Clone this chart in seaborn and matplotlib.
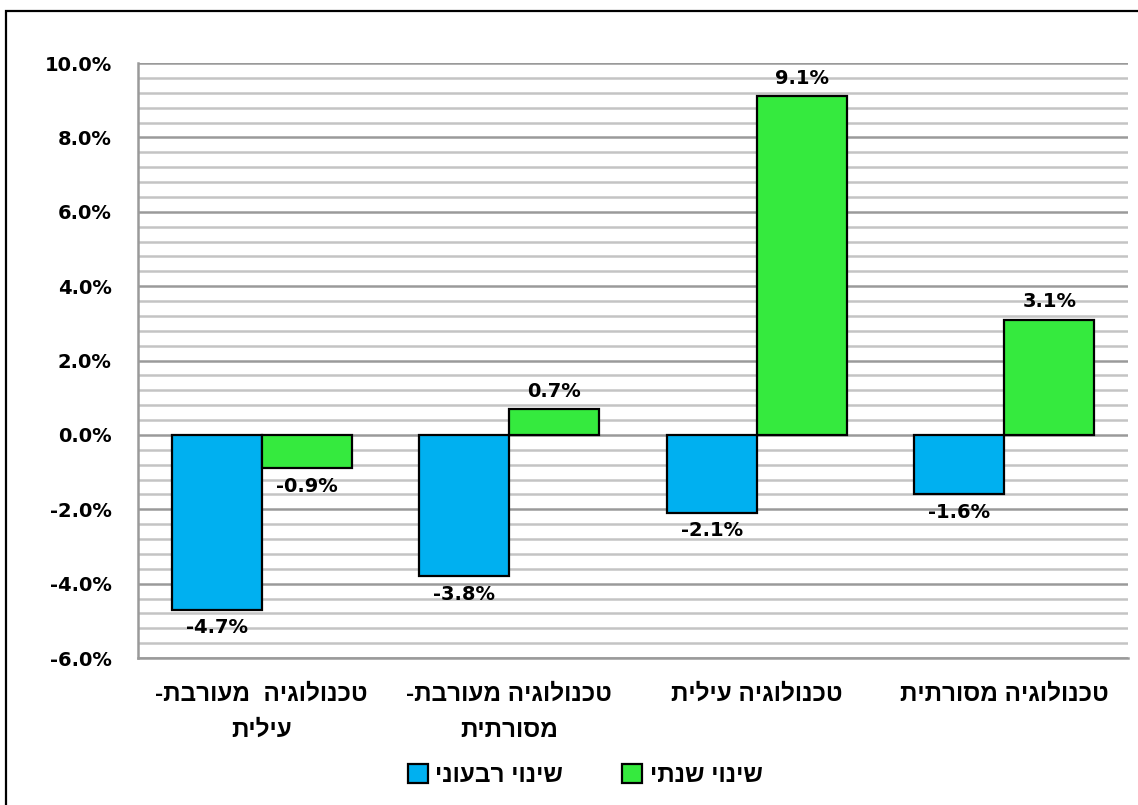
import numpy as np
import pandas as pd
import seaborn as sns
import matplotlib.pyplot as plt
from matplotlib.patches import Rectangle
from matplotlib.ticker import MultipleLocator, FuncFormatter

# Hebrew strings are stored in logical order and reversed for display (no bidi in matplotlib)
categories = ['טכנולוגיה  מעורבת-\nעילית',
              'טכנולוגיה מעורבת-\nמסורתית',
              'טכנולוגיה עילית',
              'טכנולוגיה מסורתית']
series_names = ['שינוי רבעוני', 'שינוי שנתי']
quarterly = [-4.7, -3.8, -2.1, -1.6]
annual = [-0.9, 0.7, 9.1, 3.1]
colors = ['#00B0F0', '#35EA3E']

HEB = ['Liberation Sans', 'DejaVu Sans']


def rtl(s):
    return '\n'.join(line[::-1] for line in s.split('\n'))


cat_disp = [rtl(c) for c in categories]
ser_disp = [rtl(s) for s in series_names]

df = pd.DataFrame({
    'cat': cat_disp * 2,
    'series': [ser_disp[0]] * 4 + [ser_disp[1]] * 4,
    'val': quarterly + annual,
})

sns.set_style('white')
plt.rcParams['font.family'] = ['DejaVu Sans']
plt.rcParams['font.weight'] = 'bold'
plt.rcParams['text.color'] = 'black'
plt.rcParams['xtick.color'] = 'black'
plt.rcParams['ytick.color'] = 'black'

fig = plt.figure(figsize=(11.38, 8.05), dpi=100)
ax = fig.add_axes([0.1213, 0.1826, 0.8699, 0.7391])

sns.barplot(data=df, x='cat', y='val', hue='series', palette=colors, saturation=1,
            width=0.727, edgecolor='black', linewidth=1.6, ax=ax, zorder=3)

ax.set_ylim(-6, 10)
ax.set_xlim(-0.5, 3.5)
ax.yaxis.set_major_locator(MultipleLocator(2))
ax.yaxis.set_minor_locator(MultipleLocator(0.4))
ax.yaxis.set_major_formatter(FuncFormatter(lambda v, p: f'{v:.1f}%'))
ax.grid(which='minor', axis='y', color='#C4C4C4', linewidth=1.8, zorder=0)
ax.grid(which='major', axis='y', color='#9A9A9A', linewidth=1.8, zorder=0)
ax.set_axisbelow(True)

for s in ['top', 'right']:
    ax.spines[s].set_visible(False)
for s in ['left', 'bottom']:
    ax.spines[s].set_color('#9A9A9A')
    ax.spines[s].set_linewidth(1.8)

ax.tick_params(axis='y', which='both', length=0, pad=19, labelsize=14)
ax.tick_params(axis='x', length=0, pad=18)
for t in ax.get_xticklabels():
    t.set_linespacing(1.7)
    t.set_fontweight('bold')
    t.set_family(HEB)
    t.set_fontsize(17.5)
for t in ax.get_yticklabels():
    t.set_fontweight('bold')
ax.set_xlabel('')
ax.set_ylabel('')

for cont in ax.containers:
    ax.bar_label(cont, labels=[f'{v:.1f}%' for v in cont.datavalues],
                 padding=6, fontsize=14, fontweight='bold')

leg = ax.legend(loc='center', bbox_to_anchor=(0.5 + (585 - 633) / 990, -0.197),
                ncol=2, frameon=False, prop={'family': HEB, 'size': 17.5, 'weight': 'bold'},
                handlelength=0.85, handleheight=0.85, handletextpad=0.3,
                columnspacing=2.4)
for h in leg.legend_handles:
    h.set_edgecolor('black')
    h.set_linewidth(1.6)

# outer frame (partially cropped in the original)
fig.add_artist(Rectangle((6 / 1138, -0.1), 1.2, 1 - 11 / 805 + 0.1,
                         transform=fig.transFigure, fill=False,
                         edgecolor='black', linewidth=1.6))

fig.savefig('out.png', dpi=100)
